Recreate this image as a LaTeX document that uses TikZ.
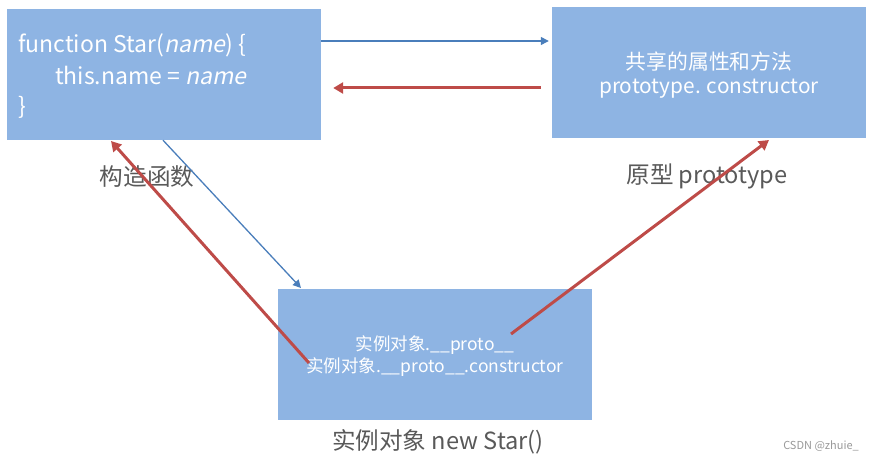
\documentclass[tikz,border=0pt]{standalone}
\usepackage{fontspec}
\setmainfont{Noto Sans CJK SC}[AutoFakeSlant=0.2]
\usetikzlibrary{arrows.meta}
\definecolor{boxfill}{HTML}{8EB4E3}
\definecolor{blueline}{HTML}{4A7EBB}
\definecolor{redline}{HTML}{BE4B48}
\definecolor{labelgray}{HTML}{595959}
\tikzset{
  box/.style={fill=boxfill, draw=none, minimum width=314pt, minimum height=131pt, inner sep=0pt},
  boxtext/.style={text=white, inner sep=0pt},
  caption/.style={text=labelgray, inner sep=0pt, font=\fontsize{23.6}{28}\selectfont},
  bluearrow/.style={draw=blueline, line width=1.3pt, -{Triangle[length=8pt,width=8pt]}},
  redarrow/.style={draw=redline, line width=3pt, -{Triangle[length=10pt,width=11pt]}},
}
\begin{document}
\begin{tikzpicture}[x=1pt,y=-1pt]
\useasboundingbox (0,0) rectangle (875,462);
\node[box] (A) at (164,74.5) {};
\node[box] (B) at (709,72.5) {};
\node[box] (C) at (435,354.5) {};
% text in A
\begin{scope}[every node/.style={boxtext, anchor=base west, font=\fontsize{23}{28}\selectfont}]
\node (a1) at (18,53) {function Star(\textit{name}) \{};
\node (a2) at (55,85) {this.name = \textit{name}};
\node (a3) at (18,115) {\}};
\end{scope}
% text in B
\node[boxtext, align=center, font=\fontsize{20.8}{24}\selectfont] (btext) at (709,75) {共享的属性和方法\\prototype. constructor};
% text in C
\node[boxtext, align=center, font=\fontsize{17.5}{22}\selectfont] (ctext) at (435,356) {实例对象.\_\_proto\_\_\\实例对象.\_\_proto\_\_.constructor};
% captions
\node[caption] (capA) at (147,177) {构造函数};
\node[caption] (capB) at (707,176) {原型 prototype};
\node[caption] (capC) at (438,442) {实例对象 new Star()};
\node[text=black!40, inner sep=0pt, font=\fontsize{11}{13}\selectfont] (csdn) at (821,446) {CSDN @zhuie\_};
% free ends
\coordinate (c1) at (309,363);
\coordinate (c2) at (511,334);
\coordinate (tA) at (111,141);
\coordinate (tB) at (769,140);
\coordinate (tC) at (301,288);
% arrows
\draw[bluearrow] ([yshift=33.5pt]A.east) -- ([xshift=-3pt,yshift=31.5pt]B.west);
\draw[redarrow] ([xshift=-11pt,yshift=-15.5pt]B.west) -- ([xshift=12pt,yshift=-13.5pt]A.east);
\draw[bluearrow] ([xshift=-1pt]A.south) -- (tC);
\draw[redarrow] (c1) -- (tA);
\draw[redarrow] (c2) -- (tB);
\end{tikzpicture}
\end{document}
